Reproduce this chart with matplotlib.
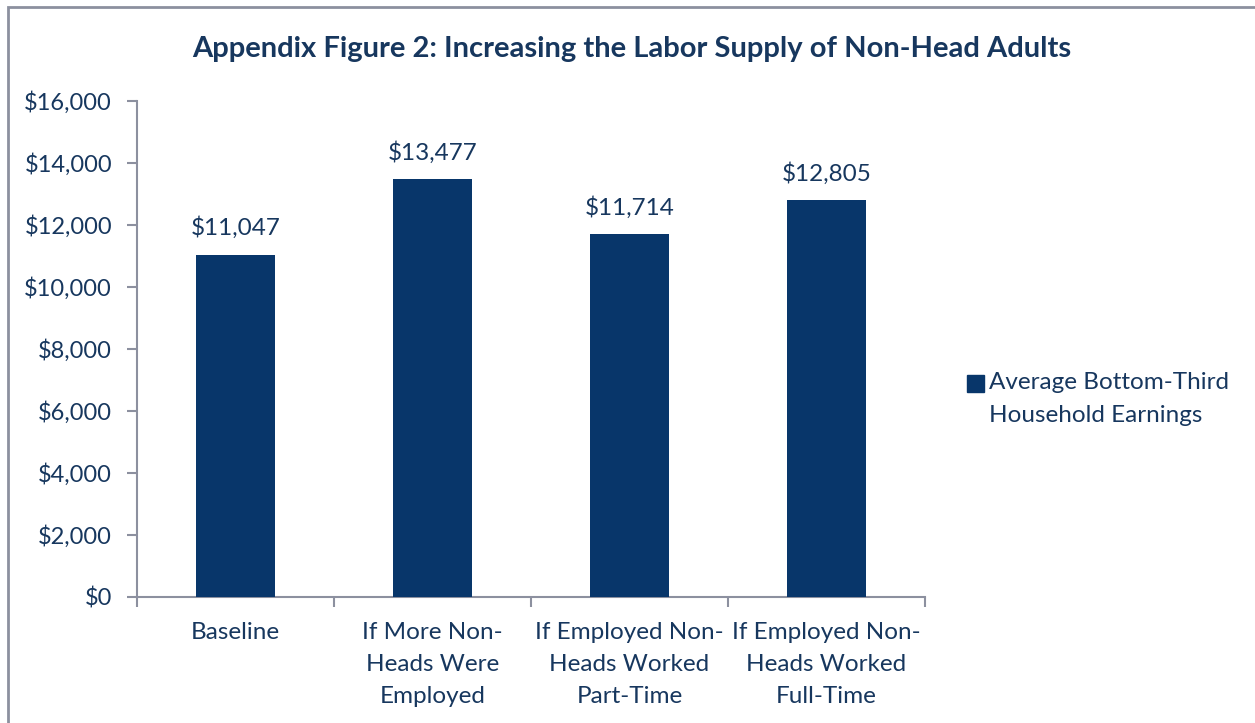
import matplotlib
matplotlib.use("Agg")
import matplotlib.pyplot as plt
from matplotlib.patches import Rectangle

categories = ["Baseline", "If More Non-\nHeads Were\nEmployed",
              "If Employed Non-\nHeads Worked\nPart-Time", "If Employed Non-\nHeads Worked\nFull-Time"]
values = [11047, 13477, 11714, 12805]
yticks = [0, 2000, 4000, 6000, 8000, 10000, 12000, 14000, 16000]
series_name = "Average Bottom-Third\nHousehold Earnings"
title = "Appendix Figure 2: Increasing the Labor Supply of Non-Head Adults"

TEXT = "#17375E"
BAR = "#08366A"
GRAY = "#8C909F"

plt.rcParams['font.family'] = ['Lato', 'DejaVu Sans']

fig = plt.figure(figsize=(12.55, 7.23), dpi=100)
ax = fig.add_axes([137/1255, 1 - 597/723, (925-137)/1255, (597-101)/723])

x = list(range(len(values)))
ax.bar(x, values, width=0.4, color=BAR, zorder=3)
ax.set_xlim(-0.5, len(values) - 0.5)
ax.set_ylim(0, 16000)
ax.set_yticks(yticks)
ax.set_yticklabels([f"${v:,}" for v in yticks], color=TEXT, fontsize=17)
ax.set_xticks(x)
ax.set_xticklabels(categories, color=TEXT, fontsize=17.5, linespacing=1.65)
ax.tick_params(axis='x', length=0, pad=18)
ax.tick_params(axis='y', length=7, color=GRAY, width=1.5, pad=11)
# minor ticks between categories
ax.set_xticks([i - 0.5 for i in range(len(values) + 1)], minor=True)
ax.tick_params(axis='x', which='minor', length=7, color=GRAY, width=1.5)
for s in ['top', 'right']:
    ax.spines[s].set_visible(False)
for s in ['left', 'bottom']:
    ax.spines[s].set_color(GRAY)
    ax.spines[s].set_linewidth(1.5)

for xi, v in zip(x, values):
    ax.annotate(f"${v:,}", (xi, v), xytext=(0, 11), textcoords='offset points',
                ha='center', va='bottom', color=TEXT, fontsize=17.5)

fig.text(632/1255, 1 - 49/723, title, ha='center', va='center',
         color=TEXT, fontsize=21, fontweight='bold')

# legend
fig.patches.append(Rectangle((967/1255, 1 - 392/723), 17/1255, 17/723,
                             transform=fig.transFigure, color=BAR))
fig.text(989/1255, 1 - 399/723, series_name, ha='left', va='center',
         color=TEXT, fontsize=17.5, linespacing=1.65)

# border
fig.patches.append(Rectangle((8/1255, -0.01), 1.5, 1 - 7/723 + 0.01,
                             transform=fig.transFigure, fill=False,
                             edgecolor=GRAY, linewidth=2))

fig.savefig("out.png", dpi=100)
